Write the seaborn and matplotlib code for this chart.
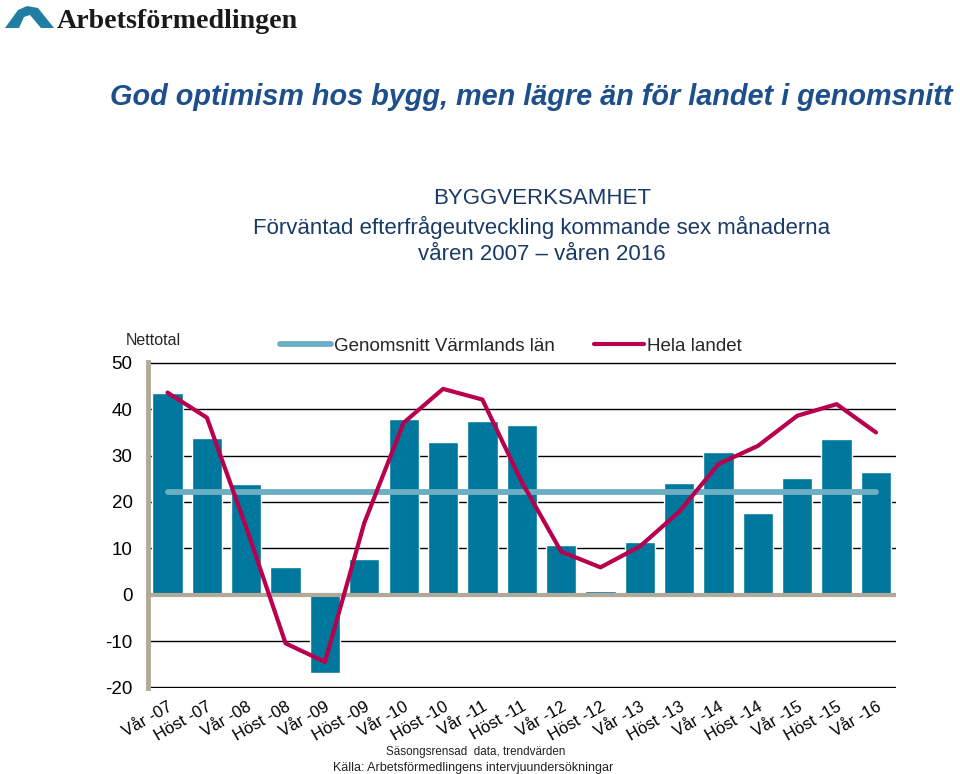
import matplotlib
matplotlib.use("Agg")
import matplotlib.pyplot as plt
import seaborn as sns
import pandas as pd
import numpy as np
from matplotlib.patches import Polygon
from matplotlib.lines import Line2D

# ---- data ----
periods = ["Vår -07", "Höst -07", "Vår -08", "Höst -08", "Vår -09", "Höst -09",
           "Vår -10", "Höst -10", "Vår -11", "Höst -11", "Vår -12", "Höst -12",
           "Vår -13", "Höst -13", "Vår -14", "Höst -14", "Vår -15", "Höst -15",
           "Vår -16"]
varmland = [43.6, 33.9, 23.8, 6.0, -17.0, 7.8, 37.8, 33.0, 37.4, 36.6, 10.8,
            0.8, 11.4, 24.1, 30.8, 17.7, 25.1, 33.5, 26.5]
hela_landet = [43.6, 38.2, 14.5, -10.5, -14.5, 15.5, 37.1, 44.4, 42.1, 24.3,
               9.3, 5.9, 10.4, 17.9, 28.2, 32.1, 38.6, 41.1, 35.0]
genomsnitt_varmland = 22.2
yticks = [-20, -10, 0, 10, 20, 30, 40, 50]

BAR = "#00779c"
AVG = "#6cafc5"
LINE = "#b8004f"
AXC = "#b3a998"

sns.set_theme(style="white")
plt.rcParams["font.family"] = ["Liberation Sans", "DejaVu Sans"]

df = pd.DataFrame({
    "pos": np.arange(len(periods)),
    "period": periods,
    "varmland": varmland,
    "hela": hela_landet,
    "avg": [genomsnitt_varmland] * len(periods),
})

fig = plt.figure(figsize=(9.6, 7.74), dpi=100)
fig.patch.set_facecolor("white")
ax = fig.add_axes([0.154, 0.111, 0.779, 0.421])

sns.barplot(data=df, x="pos", y="varmland", color=BAR, saturation=1,
            width=0.77, ax=ax, zorder=3)
sns.lineplot(data=df, x="pos", y="avg", color=AVG, linewidth=4.2, ax=ax,
             zorder=4, solid_capstyle="round")
sns.lineplot(data=df, x="pos", y="hela", color=LINE, linewidth=3.0, ax=ax,
             zorder=5, solid_capstyle="round", solid_joinstyle="round")

ax.set_xlim(-0.5, 18.5)
ax.set_ylim(-20.15, 50.15)
ax.set_yticks(yticks)
ax.set_yticklabels([str(v) for v in yticks], fontsize=13.5)
ax.yaxis.grid(True, color="black", linewidth=1.0, zorder=0)
ax.set_axisbelow(True)
ax.axhline(0, color=AXC, linewidth=3.0, zorder=3.5)
for s in ["top", "right", "bottom"]:
    ax.spines[s].set_visible(False)
ax.spines["left"].set_color(AXC)
ax.spines["left"].set_linewidth(3.5)
ax.tick_params(axis="both", length=0, colors="black")
ax.tick_params(axis="y", pad=11)
ax.tick_params(axis="x", pad=8)
ax.set_xticks(df["pos"])
ax.set_xticklabels(periods, rotation=30, ha="right", rotation_mode="anchor",
                   fontsize=12)
ax.set_xlabel("")
ax.set_ylabel("")
ax.text((126 - 148) / 748, 1.068, "Nettotal", transform=ax.transAxes,
        fontsize=11.5, ha="left", va="center")

handles = [Line2D([], [], color=AVG, linewidth=4.2, solid_capstyle="round"),
           Line2D([], [], color=LINE, linewidth=3.0, solid_capstyle="round")]
fig.legend(handles, ["Genomsnitt Värmlands län", "Hela landet"], ncol=2,
           loc="center", bbox_to_anchor=(511 / 960, 1 - 346 / 774),
           frameon=False, fontsize=13.5, handlelength=2.7, handletextpad=0.15,
           columnspacing=2.1)

# ---- titles ----
fig.text(110 / 960, 1 - 97 / 774,
         "God optimism hos bygg, men lägre än för landet i genomsnitt",
         fontsize=20.8, fontweight="bold", fontstyle="italic",
         color="#1c4f8c", ha="left", va="center")
sub = "#1a3a66"
fig.text(542 / 960, 1 - 198 / 774, "BYGGVERKSAMHET", fontsize=16,
         color=sub, ha="center", va="center")
fig.text(542 / 960, 1 - 227 / 774,
         "Förväntad efterfrågeutveckling kommande sex månaderna",
         fontsize=16, color=sub, ha="center", va="center")
fig.text(542 / 960, 1 - 254 / 774, "våren 2007 – våren 2016", fontsize=16,
         color=sub, ha="center", va="center")

# ---- footer ----
fig.text(476 / 960, 1 - 752 / 774, "Säsongsrensad  data, trendvärden",
         fontsize=8.4, ha="center", va="center", color="#222222")
fig.text(473 / 960, 1 - 768 / 774,
         "Källa: Arbetsförmedlingens intervjuundersökningar",
         fontsize=9, ha="center", va="center", color="#222222")

# ---- logo ----
logo_pts = [(5, 28), (18, 10), (27, 6), (38, 8), (54, 28), (41, 28),
            (30, 15), (24, 17), (19, 28)]
fig.patches.append(Polygon([(x / 960, 1 - y / 774) for x, y in logo_pts],
                           closed=True, transform=fig.transFigure,
                           facecolor="#1f7ea1", edgecolor="none"))
fig.text(57 / 960, 1 - 21 / 774, "Arbetsförmedlingen", fontsize=20.2,
         fontweight="bold", family=["Liberation Serif", "DejaVu Serif"],
         ha="left", va="center", color="#1a1a1a")

fig.savefig("out.png", dpi=100, facecolor="white")
